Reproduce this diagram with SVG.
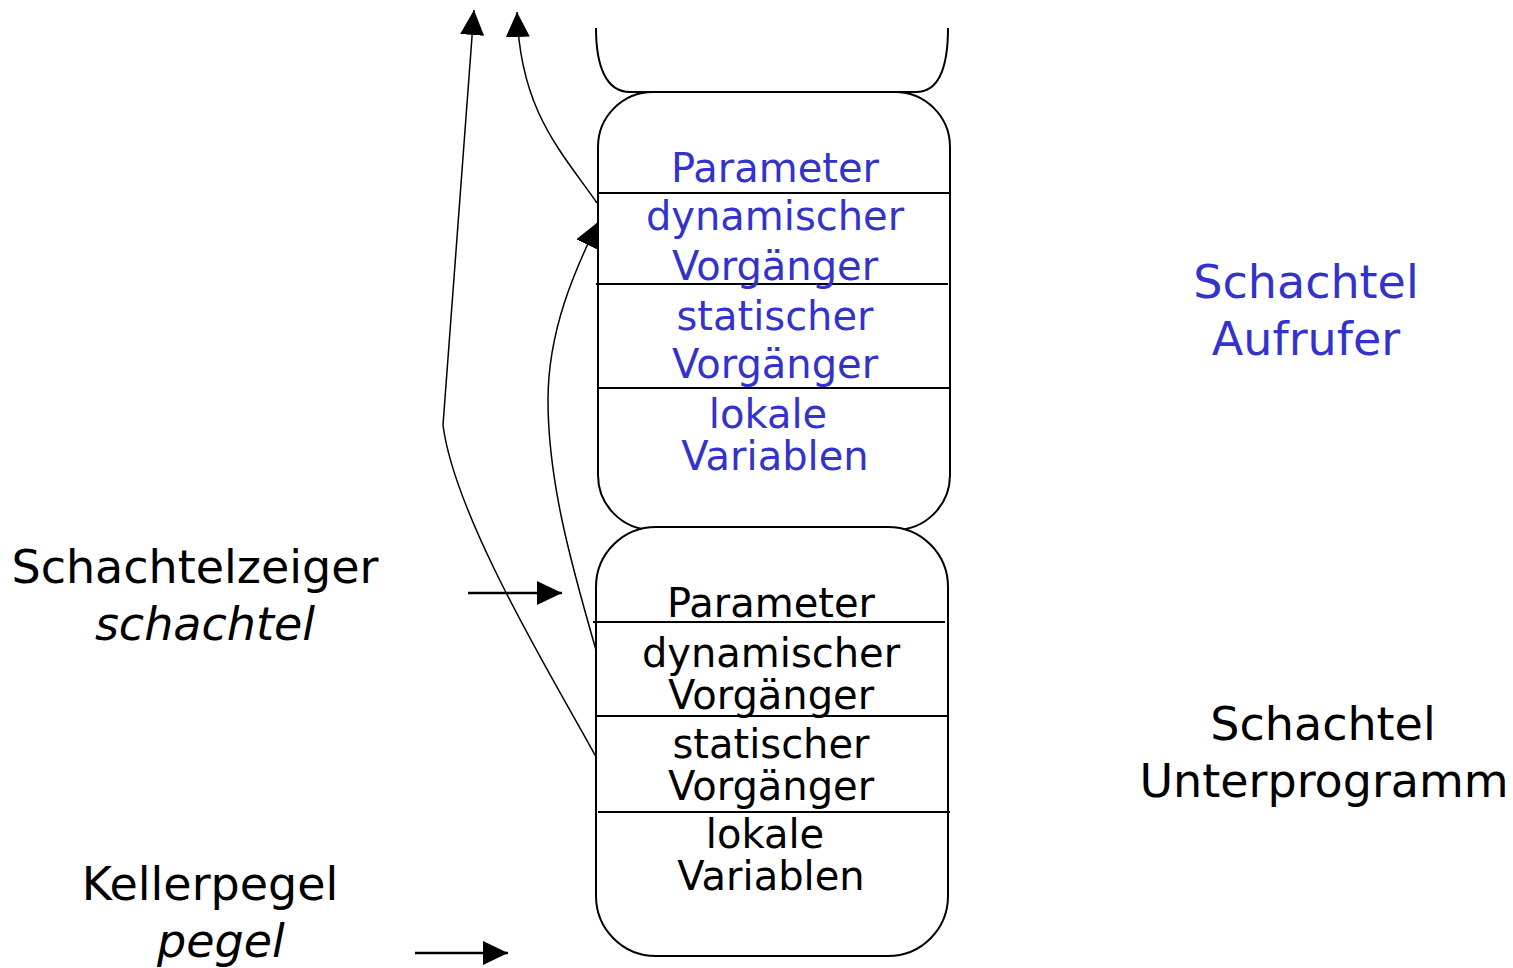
<svg xmlns="http://www.w3.org/2000/svg" width="1513" height="968" viewBox="0 0 1513 968">
<defs>
<marker id="ah" markerUnits="userSpaceOnUse" markerWidth="26" markerHeight="26" refX="25" refY="12" orient="auto">
<path d="M0,0 L25,12 L0,24 z" fill="#000"/>
</marker>
<style>
.box{fill:#fff;stroke:#000;stroke-width:2}
.div{stroke:#000;stroke-width:2}
.c{stroke:#000;stroke-width:1.5;fill:none;marker-end:url(#ah)}
.s{stroke:#000;stroke-width:2.5;fill:none;marker-end:url(#ah)}
text{font-family:"DejaVu Sans","Liberation Sans",sans-serif}
.t{font-size:40px;text-anchor:middle}
.b{fill:#3333CC}
.k{fill:#000}
.l{font-size:46px;text-anchor:middle}
.i{font-style:italic}
</style>
</defs>
<g id="prev-box">
<path class="box" d="M596,28 C596,66 606,92 630,92 L916,92 C940,92 948,66 948,28" fill="none"/>
</g>
<g id="caller-box">
<rect class="box" x="598" y="92" width="352" height="438" rx="55" ry="55"/>
<line class="div" x1="598" y1="193" x2="950" y2="193"/>
<line class="div" x1="596" y1="284" x2="948" y2="284"/>
<line class="div" x1="598" y1="388" x2="950" y2="388"/>
<text class="t b" x="775" y="182">Parameter</text>
<text class="t b" x="775" y="230">dynamischer</text>
<text class="t b" x="775" y="280">Vorgänger</text>
<text class="t b" x="775" y="330">statischer</text>
<text class="t b" x="775" y="378">Vorgänger</text>
<text class="t b" x="768" y="428">lokale</text>
<text class="t b" x="775" y="470">Variablen</text>
</g>
<g id="callee-box">
<rect class="box" x="596" y="527" width="352" height="429" rx="60" ry="60"/>
<line class="div" x1="593" y1="622" x2="945" y2="622"/>
<line class="div" x1="596" y1="716" x2="948" y2="716"/>
<line class="div" x1="598" y1="812" x2="950" y2="812"/>
<text class="t k" x="771" y="617">Parameter</text>
<text class="t k" x="771" y="667">dynamischer</text>
<text class="t k" x="771" y="709">Vorgänger</text>
<text class="t k" x="771" y="758">statischer</text>
<text class="t k" x="771" y="800">Vorgänger</text>
<text class="t k" x="765" y="848">lokale</text>
<text class="t k" x="771" y="890">Variablen</text>
</g>
<g id="labels">
<text class="l b" x="1306" y="298">Schachtel</text>
<text class="l b" x="1306" y="355">Aufrufer</text>
<text class="l k" x="1323" y="740">Schachtel</text>
<text class="l k" x="1324" y="797">Unterprogramm</text>
<text class="l k" x="195" y="583">Schachtelzeiger</text>
<text class="l k i" x="205" y="640">schachtel</text>
<text class="l k" x="210" y="900">Kellerpegel</text>
<text class="l k i" x="221" y="957">pegel</text>
</g>
<g id="connectors">
<path class="c" d="M596,757 C560,690 455,520 443,425 L474,10"/>
<path class="c" d="M597,203 C560,150 520,110 517,12"/>
<path class="c" d="M596,650 C570,560 548,480 548,400 C548,330 575,270 598,222"/>
<path class="s" d="M468,593 L562,593"/>
<path class="s" d="M415,953 L508,953"/>
</g>
</svg>
